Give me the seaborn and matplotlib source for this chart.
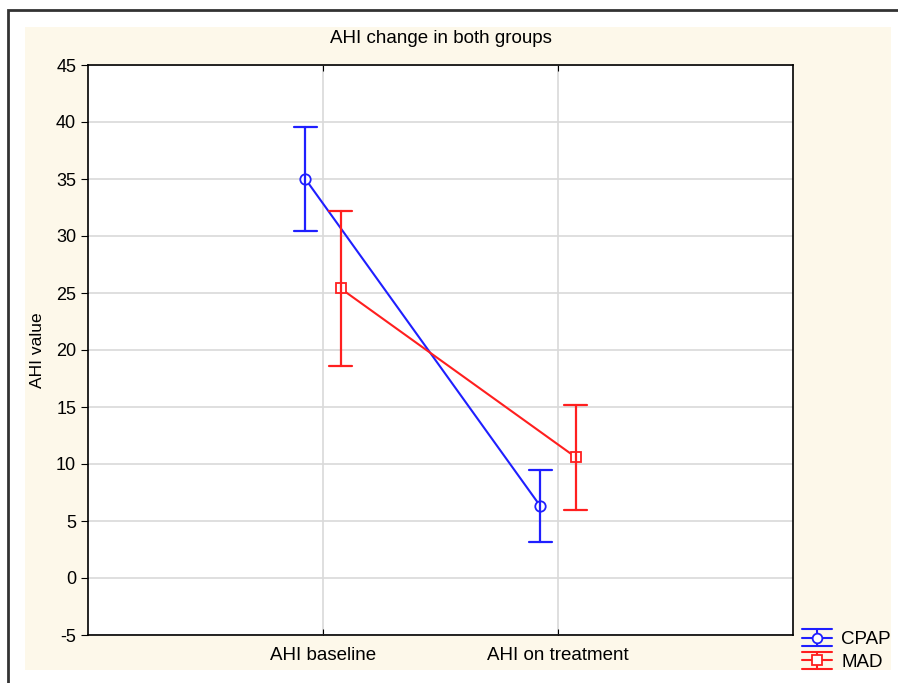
import numpy as np
import pandas as pd
import matplotlib
matplotlib.use("Agg")
import matplotlib.pyplot as plt
import seaborn as sns
from matplotlib.patches import Rectangle
from matplotlib.lines import Line2D
from matplotlib.legend_handler import HandlerBase

# datos
momentos = ["AHI baseline", "AHI on treatment"]
grupos = ["CPAP", "MAD"]
media_cpap = [35.0, 6.3]
error_cpap = [4.6, 3.15]
media_mad = [25.4, 10.6]
error_mad = [6.8, 4.6]
colores = ["#1f1fff", "#ff1f1f"]

# dos filas por punto (media - error, media + error) -> intervalo min/max
filas = []
for grupo, medias, errores in [("CPAP", media_cpap, error_cpap), ("MAD", media_mad, error_mad)]:
    for momento, m, e in zip(momentos, medias, errores):
        filas.append({"momento": momento, "grupo": grupo, "ahi": m - e})
        filas.append({"momento": momento, "grupo": grupo, "ahi": m + e})
df = pd.DataFrame(filas)


# icono de leyenda estilo barra de error (tres lineas + barra vertical + marcador)
class ManejadorError(HandlerBase):
    def create_artists(self, legend, orig_handle, xdescent, ydescent, width, height, fontsize, trans):
        c = orig_handle.get_color()
        m = orig_handle.get_marker()
        x0, x1 = -xdescent, width - xdescent
        y0, y1 = -ydescent, height - ydescent
        yc = (y0 + y1) / 2
        xc = (x0 + x1) / 2
        artistas = []
        for y in (y0, yc, y1):
            artistas.append(Line2D([x0, x1], [y, y], color=c, linewidth=1.5))
        artistas.append(Line2D([xc, xc], [y0, y1], color=c, linewidth=1.5))
        artistas.append(Line2D([xc], [yc], marker=m, markersize=7, color=c,
                               markerfacecolor="white", markeredgewidth=1.3, linestyle="none"))
        for a in artistas:
            a.set_transform(trans)
        return artistas


sns.set_style("white")
plt.rcParams["font.family"] = ["Liberation Sans", "DejaVu Sans"]
plt.rcParams["axes.unicode_minus"] = False
plt.rcParams["text.color"] = "black"

fig = plt.figure(figsize=(8.98, 6.83), dpi=100)
fig.patch.set_facecolor("white")
# fondo beige y marco
fig.patches.append(Rectangle((25 / 898, 1 - 670 / 683), 866 / 898, 643 / 683,
                             transform=fig.transFigure, facecolor="#fdf8ea",
                             edgecolor="none", zorder=-10))
fig.patches.append(Rectangle((8 / 898, -0.1), 1.2, 1 - 10 / 683 + 0.1,
                             transform=fig.transFigure, facecolor="none",
                             edgecolor="#333333", linewidth=2, zorder=-9))

ax = fig.add_axes([88 / 898, 1 - 635 / 683, 705 / 898, 570 / 683])
ax.set_facecolor("white")

sns.pointplot(data=df, x="momento", y="ahi", hue="grupo", order=momentos,
              hue_order=grupos, palette=colores, dodge=0.15,
              errorbar=("pi", 100), capsize=0.1, markers=["o", "s"],
              markersize=7.5, markerfacecolor="white", markeredgewidth=1.3,
              linewidth=1.5, err_kws={"linewidth": 1.6}, ax=ax)

ax.set_xlim(-1, 2)
ax.set_ylim(-5, 45)
ax.set_yticks(np.arange(-5, 46, 5))
ax.grid(True, color="#d9d9d9", linewidth=1.2)
ax.set_axisbelow(True)
for s in ax.spines.values():
    s.set_color("black")
    s.set_linewidth(1.2)
ax.tick_params(axis="y", direction="out", length=5, labelsize=13, left=True,
               labelcolor="black", color="black")
ax.tick_params(axis="x", direction="in", length=4, labelsize=13.5, bottom=True, top=True,
               pad=9, labelcolor="black", color="black")
ax.set_xlabel("")
ax.set_ylabel("AHI value", fontsize=12.5, labelpad=8, color="black")
ax.set_title("AHI change in both groups", fontsize=13.5, pad=16, color="black")

handles, labels = ax.get_legend_handles_labels()
ax.legend(handles, labels, loc="lower right", bbox_to_anchor=(902 / 898, 1 - 682 / 683),
          bbox_transform=fig.transFigure, frameon=False, fontsize=13.5,
          handler_map={Line2D: ManejadorError()},
          handlelength=1.6, handleheight=1.0, handletextpad=0.5,
          borderpad=0.1, labelspacing=0.2)

fig.savefig("out.png", dpi=100)
